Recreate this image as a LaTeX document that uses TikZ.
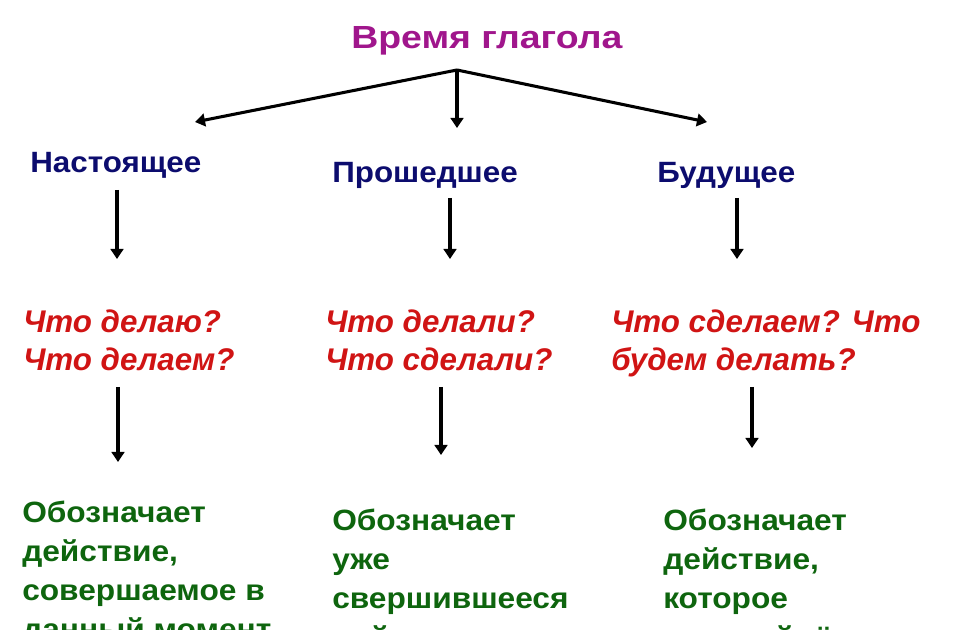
\documentclass[tikz,border=0pt]{standalone}
\usepackage{fontspec}
\setmainfont{Liberation Sans}
\newfontfamily\titlefont[FakeStretch=1.17]{Liberation Sans}
\newfontfamily\tensefont[FakeStretch=1.07]{Liberation Sans}
\newfontfamily\meanfont[FakeStretch=1.08]{Liberation Sans}
\usetikzlibrary{arrows.meta}

\definecolor{titlecol}{HTML}{A0168C}
\definecolor{tensecol}{HTML}{0C0C6E}
\definecolor{askcol}{HTML}{D01414}
\definecolor{meancol}{HTML}{0E650E}

\begin{document}
\begin{tikzpicture}[x=0.75pt, y=-0.75pt,
    txt/.style={anchor=base west, inner sep=0pt, align=left},
    title/.style={txt, text=titlecol, font=\titlefont\fontsize{24}{28}\selectfont\bfseries},
    tense/.style={txt, text=tensecol, font=\tensefont\fontsize{22}{26}\selectfont\bfseries},
    ask/.style={txt, text=askcol, font=\fontsize{23.5}{28.5}\selectfont\bfseries\itshape},
    mean/.style={txt, text=meancol, font=\meanfont\fontsize{22}{29.2}\selectfont\bfseries},
    arr/.style={line width=2.3pt, -{Triangle[length=7.5pt, width=9.5pt]}}]
    \clip (0,0) rectangle (960,630);

    % Define the points of the arrows
    \coordinate (top) at (457,70);
    \coordinate (t1) at (195,122);
    \coordinate (t2) at (457,128);
    \coordinate (t3) at (707,122);
    \coordinate (a1) at (117,190);
    \coordinate (b1) at (117,259);
    \coordinate (a2) at (450,198);
    \coordinate (b2) at (450,259);
    \coordinate (a3) at (737,198);
    \coordinate (b3) at (737,259);
    \coordinate (c1) at (118,387);
    \coordinate (d1) at (118,462);
    \coordinate (c2) at (441,387);
    \coordinate (d2) at (441,455);
    \coordinate (c3) at (752,387);
    \coordinate (d3) at (752,448);

    % Title and tenses (base = last line)
    \node (time) at (351,49) [title] {Время глагола};
    \node (pres) at (30,173) [tense] {Настоящее};
    \node (past) at (332,183) [tense] {Прошедшее};
    \node (fut) at (657,183) [tense] {Будущее};

    % Questions
    \node (qpres) at (23,371) [ask] {Что делаю?\\Что делаем?};
    \node (qpast) at (325,371) [ask] {Что делали?\\Что сделали?};
    \node (qfut) at (611,371) [ask] {Что сделаем? Что\\будем делать?};

    % Meanings
    \node (mpres) at (22,639) [mean] {Обозначает\\действие,\\совершаемое в\\данный момент};
    \node (mpast) at (332,647) [mean] {Обозначает\\уже\\свершившееся\\действие};
    \node (mfut) at (663,647) [mean] {Обозначает\\действие,\\которое\\произойдёт};

    % Draw the arrows
    \draw[arr] (top) -- (t1);
    \draw[arr] (top) -- (t2);
    \draw[arr] (top) -- (t3);
    \draw[arr] (a1) -- (b1);
    \draw[arr] (a2) -- (b2);
    \draw[arr] (a3) -- (b3);
    \draw[arr] (c1) -- (d1);
    \draw[arr] (c2) -- (d2);
    \draw[arr] (c3) -- (d3);

\end{tikzpicture}
\end{document}
